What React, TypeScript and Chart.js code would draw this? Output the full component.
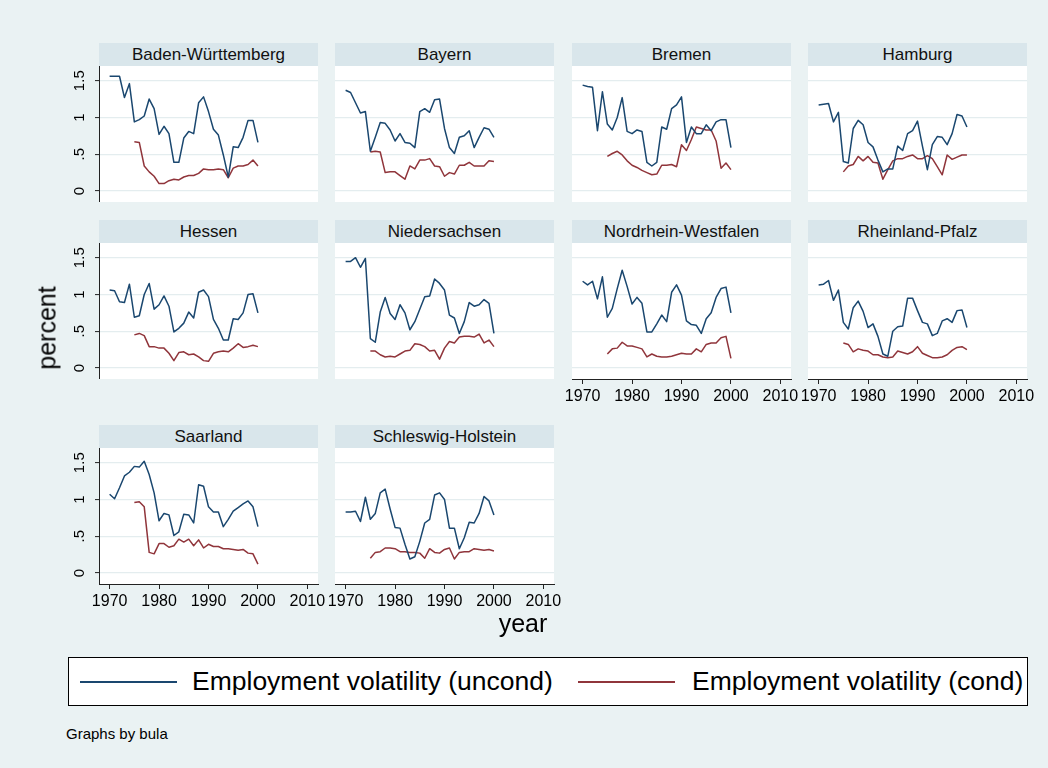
import React, { useEffect, useRef } from "react";
import { Chart, registerables } from "chart.js";

Chart.register(...registerables);

// ---------- data ----------
const years = [1970, 1971, 1972, 1973, 1974, 1975, 1976, 1977, 1978, 1979, 1980, 1981, 1982, 1983, 1984, 1985, 1986, 1987, 1988, 1989, 1990, 1991, 1992, 1993, 1994, 1995, 1996, 1997, 1998, 1999, 2000];
const condYears = [1975, 1976, 1977, 1978, 1979, 1980, 1981, 1982, 1983, 1984, 1985, 1986, 1987, 1988, 1989, 1990, 1991, 1992, 1993, 1994, 1995, 1996, 1997, 1998, 1999, 2000];
const xTickValues = [1970, 1980, 1990, 2000, 2010];
const yTickValues = [0, 0.5, 1, 1.5];
const yTickLabels = ["0", ".5", "1", "1.5"];
const seriesNames = ["Employment volatility (uncond)", "Employment volatility (cond)"];
const stateNames = ["Baden-Württemberg", "Bayern", "Bremen", "Hamburg", "Hessen", "Niedersachsen", "Nordrhein-Westfalen", "Rheinland-Pfalz", "Saarland", "Schleswig-Holstein"];

const bwUncond = [1.56, 1.56, 1.56, 1.27, 1.46, 0.94, 0.97, 1.02, 1.25, 1.12, 0.77, 0.88, 0.78, 0.39, 0.39, 0.72, 0.81, 0.78, 1.2, 1.28, 1.08, 0.84, 0.76, 0.49, 0.19, 0.6, 0.59, 0.73, 0.96, 0.96, 0.66];
const bwCond = [0.67, 0.66, 0.34, 0.26, 0.2, 0.1, 0.1, 0.14, 0.16, 0.15, 0.19, 0.21, 0.21, 0.24, 0.3, 0.29, 0.29, 0.3, 0.29, 0.18, 0.31, 0.34, 0.34, 0.36, 0.42, 0.34];
const byUncond = [1.37, 1.34, 1.2, 1.06, 1.08, 0.54, 0.73, 0.93, 0.92, 0.83, 0.68, 0.78, 0.66, 0.65, 0.59, 1.08, 1.12, 1.07, 1.24, 1.25, 0.85, 0.59, 0.51, 0.73, 0.75, 0.82, 0.59, 0.73, 0.86, 0.84, 0.73];
const byCond = [0.53, 0.54, 0.53, 0.25, 0.26, 0.26, 0.21, 0.16, 0.34, 0.3, 0.42, 0.42, 0.44, 0.34, 0.33, 0.2, 0.25, 0.23, 0.35, 0.35, 0.39, 0.34, 0.34, 0.34, 0.41, 0.4];
const hbUncond = [1.44, 1.42, 1.41, 0.82, 1.35, 0.91, 0.83, 1.0, 1.27, 0.81, 0.78, 0.83, 0.81, 0.39, 0.34, 0.39, 0.87, 0.84, 1.12, 1.17, 1.28, 0.66, 0.87, 0.78, 0.78, 0.9, 0.82, 0.94, 0.97, 0.97, 0.59];
const hbCond = [0.47, 0.51, 0.54, 0.49, 0.41, 0.35, 0.32, 0.28, 0.25, 0.22, 0.23, 0.35, 0.35, 0.36, 0.33, 0.63, 0.55, 0.7, 0.87, 0.85, 0.83, 0.83, 0.68, 0.31, 0.38, 0.29];
const hhUncond = [1.17, 1.18, 1.19, 0.94, 1.07, 0.4, 0.38, 0.85, 0.96, 0.9, 0.66, 0.6, 0.42, 0.26, 0.3, 0.3, 0.61, 0.55, 0.78, 0.82, 0.95, 0.61, 0.29, 0.63, 0.74, 0.73, 0.63, 0.78, 1.04, 1.02, 0.87];
const hhCond = [0.26, 0.34, 0.36, 0.47, 0.41, 0.47, 0.39, 0.38, 0.16, 0.29, 0.41, 0.44, 0.44, 0.47, 0.49, 0.44, 0.44, 0.48, 0.44, 0.33, 0.22, 0.49, 0.43, 0.46, 0.49, 0.49];
const heUncond = [1.06, 1.05, 0.9, 0.89, 1.14, 0.69, 0.71, 1.0, 1.15, 0.8, 0.86, 0.98, 0.84, 0.49, 0.54, 0.61, 0.76, 0.68, 1.03, 1.06, 0.97, 0.66, 0.54, 0.38, 0.38, 0.67, 0.66, 0.75, 1.0, 1.01, 0.75];
const heCond = [0.45, 0.47, 0.44, 0.29, 0.29, 0.27, 0.27, 0.2, 0.1, 0.21, 0.22, 0.18, 0.19, 0.15, 0.1, 0.09, 0.2, 0.22, 0.23, 0.22, 0.27, 0.33, 0.28, 0.29, 0.31, 0.29];
const niUncond = [1.45, 1.45, 1.5, 1.37, 1.49, 0.4, 0.35, 0.76, 0.96, 0.74, 0.66, 0.86, 0.75, 0.52, 0.63, 0.8, 0.97, 0.98, 1.21, 1.15, 1.06, 0.72, 0.68, 0.47, 0.63, 0.89, 0.84, 0.86, 0.93, 0.88, 0.47];
const niCond = [0.23, 0.23, 0.18, 0.15, 0.16, 0.15, 0.19, 0.23, 0.24, 0.33, 0.32, 0.29, 0.23, 0.24, 0.12, 0.27, 0.36, 0.34, 0.42, 0.43, 0.43, 0.42, 0.46, 0.34, 0.38, 0.29];
const nwUncond = [1.18, 1.13, 1.18, 0.94, 1.24, 0.69, 0.81, 1.08, 1.33, 1.11, 0.87, 0.96, 0.88, 0.49, 0.49, 0.6, 0.72, 0.63, 1.03, 1.13, 0.99, 0.64, 0.59, 0.58, 0.47, 0.67, 0.75, 0.96, 1.08, 1.1, 0.75];
const nwCond = [0.19, 0.26, 0.27, 0.35, 0.3, 0.3, 0.28, 0.26, 0.15, 0.19, 0.16, 0.15, 0.15, 0.16, 0.18, 0.2, 0.19, 0.19, 0.26, 0.22, 0.32, 0.34, 0.34, 0.41, 0.43, 0.13];
const rpUncond = [1.13, 1.14, 1.19, 0.92, 1.06, 0.62, 0.53, 0.82, 0.91, 0.77, 0.55, 0.6, 0.43, 0.19, 0.16, 0.5, 0.56, 0.57, 0.95, 0.95, 0.78, 0.62, 0.6, 0.44, 0.47, 0.64, 0.67, 0.62, 0.78, 0.79, 0.55];
const rpCond = [0.34, 0.32, 0.22, 0.26, 0.24, 0.23, 0.18, 0.18, 0.15, 0.14, 0.15, 0.23, 0.21, 0.19, 0.22, 0.29, 0.2, 0.17, 0.14, 0.14, 0.15, 0.18, 0.24, 0.28, 0.29, 0.25];
const slUncond = [1.07, 1.01, 1.16, 1.32, 1.37, 1.45, 1.44, 1.52, 1.34, 1.09, 0.71, 0.81, 0.79, 0.51, 0.56, 0.8, 0.79, 0.68, 1.2, 1.18, 0.9, 0.83, 0.83, 0.63, 0.73, 0.84, 0.89, 0.94, 0.98, 0.9, 0.63];
const slCond = [0.96, 0.97, 0.9, 0.28, 0.26, 0.4, 0.4, 0.35, 0.37, 0.46, 0.42, 0.46, 0.37, 0.45, 0.34, 0.39, 0.36, 0.36, 0.33, 0.33, 0.32, 0.31, 0.32, 0.27, 0.26, 0.12];
const shUncond = [0.83, 0.83, 0.84, 0.7, 1.03, 0.73, 0.81, 1.09, 1.14, 0.87, 0.62, 0.61, 0.39, 0.19, 0.22, 0.43, 0.68, 0.73, 1.06, 1.09, 1.0, 0.61, 0.61, 0.33, 0.48, 0.69, 0.68, 0.81, 1.04, 0.98, 0.79];
const shCond = [0.2, 0.28, 0.29, 0.34, 0.34, 0.33, 0.29, 0.29, 0.28, 0.28, 0.27, 0.2, 0.33, 0.28, 0.27, 0.32, 0.34, 0.19, 0.28, 0.29, 0.29, 0.33, 0.32, 0.31, 0.32, 0.3];

const uncondSeries = [bwUncond, byUncond, hbUncond, hhUncond, heUncond, niUncond, nwUncond, rpUncond, slUncond, shUncond];
const condSeries = [bwCond, byCond, hbCond, hhCond, heCond, niCond, nwCond, rpCond, slCond, shCond];

// ---------- style / layout ----------
const FONT = '"Liberation Sans", Arial, Helvetica, sans-serif';
const BG = "#EAF2F3";
const STRIP = "#D9E6EB";
const GRID = "#E4EDEF";
const AXIS = "#222222";
const NAVY = "#1A476F";
const MAROON = "#90353B";

const COL_LEFT = [99, 335, 572, 808];
const ROW_TOP = [66, 243, 448];
const PLOT_W = 219;
const PLOT_H = 136;
const HEADER_H = 23;
const Y_AXIS_W = 40;
const X_AXIS_H = 34;
const X_EXT = 20;
const X_MIN = 1967.85;
const X_MAX = 2012.15;
const Y_MIN = -0.15;
const Y_MAX = 1.7;

const whiteBg = {
  id: "whiteBg",
  beforeDraw(chart: any) {
    const { ctx, chartArea } = chart;
    ctx.save();
    ctx.fillStyle = "#ffffff";
    ctx.fillRect(chartArea.left, chartArea.top, chartArea.right - chartArea.left, chartArea.bottom - chartArea.top);
    ctx.restore();
  },
};

type PanelProps = {
  title: string;
  uncond: number[];
  cond: number[];
  col: number;
  row: number;
  showY: boolean;
  showX: boolean;
};

function Panel({ title, uncond, cond, col, row, showY, showX }: PanelProps) {
  const ref = useRef<HTMLCanvasElement>(null);
  const plotLeft = COL_LEFT[col];
  const plotTop = ROW_TOP[row];
  const padLeft = showX && !showY ? X_EXT : 0;
  const padRight = showX ? X_EXT : 0;
  const leftExtra = (showY ? Y_AXIS_W : 0) + padLeft;
  const cw = PLOT_W + leftExtra + padRight;
  const ch = PLOT_H + (showX ? X_AXIS_H : 0);

  useEffect(() => {
    if (!ref.current) return;
    const chart = new Chart(ref.current, {
      type: "line",
      data: {
        datasets: [
          {
            label: seriesNames[0],
            data: years.map((yr, i) => ({ x: yr, y: uncond[i] })),
            borderColor: NAVY,
            borderWidth: 1.5,
            pointRadius: 0,
            fill: false,
            tension: 0,
            borderJoinStyle: "round",
          },
          {
            label: seriesNames[1],
            data: condYears.map((yr, i) => ({ x: yr, y: cond[i] })),
            borderColor: MAROON,
            borderWidth: 1.5,
            pointRadius: 0,
            fill: false,
            tension: 0,
            borderJoinStyle: "round",
          },
        ],
      },
      options: {
        animation: false,
        responsive: false,
        maintainAspectRatio: false,
        events: [],
        layout: { padding: { left: padLeft, right: padRight, top: 0, bottom: 0 }, autoPadding: false },
        plugins: {
          legend: { display: false },
          tooltip: { enabled: false },
          title: { display: false },
        },
        scales: {
          x: {
            type: "linear",
            min: X_MIN,
            max: X_MAX,
            display: showX,
            afterBuildTicks: (s: any) => {
              s.ticks = xTickValues.map((v) => ({ value: v }));
            },
            afterFit: (s: any) => {
              s.height = showX ? X_AXIS_H : 0;
              s.paddingLeft = 0;
              s.paddingRight = 0;
              s.paddingTop = 0;
              s.paddingBottom = 0;
            },
            ticks: {
              color: "#000",
              font: { family: FONT, size: 16 },
              padding: 3,
              minRotation: 0,
              maxRotation: 0,
              autoSkip: false,
              callback: (_v: any, i: number) => String(xTickValues[i]),
            },
            grid: { drawOnChartArea: false, drawTicks: true, tickLength: 5, color: AXIS, lineWidth: 1 },
            border: { display: true, color: AXIS, width: 1 },
          },
          y: {
            type: "linear",
            min: Y_MIN,
            max: Y_MAX,
            display: true,
            afterBuildTicks: (s: any) => {
              s.ticks = yTickValues.map((v) => ({ value: v }));
            },
            afterFit: (s: any) => {
              s.width = showY ? Y_AXIS_W : 0;
              s.paddingLeft = 0;
              s.paddingRight = 0;
              s.paddingTop = 0;
              s.paddingBottom = 0;
            },
            ticks: {
              display: showY,
              color: "#000",
              font: { family: FONT, size: 15 },
              padding: 5,
              minRotation: 90,
              maxRotation: 90,
              crossAlign: "center",
              autoSkip: false,
              callback: (_v: any, i: number) => yTickLabels[i],
            },
            grid: {
              color: GRID,
              lineWidth: 1.2,
              drawTicks: showY,
              tickLength: 4,
              tickColor: AXIS,
              tickWidth: 1,
            },
            border: { display: showY, color: AXIS, width: 1 },
          },
        },
      } as any,
      plugins: [whiteBg],
    });
    return () => chart.destroy();
  }, []);

  return (
    <>
      <div
        style={{
          position: "absolute",
          left: plotLeft,
          top: plotTop - HEADER_H,
          width: PLOT_W,
          height: HEADER_H,
          background: STRIP,
          fontFamily: FONT,
          fontSize: 17,
          lineHeight: HEADER_H + "px",
          textAlign: "center",
          color: "#111",
          whiteSpace: "nowrap",
        }}
      >
        {title}
      </div>
      <canvas
        ref={ref}
        width={cw}
        height={ch}
        style={{
          position: "absolute",
          left: plotLeft - leftExtra,
          top: plotTop,
          width: cw,
          height: ch,
        }}
      />
    </>
  );
}

const panelLayout = [
  { col: 0, row: 0, showY: true, showX: false },
  { col: 1, row: 0, showY: false, showX: false },
  { col: 2, row: 0, showY: false, showX: false },
  { col: 3, row: 0, showY: false, showX: false },
  { col: 0, row: 1, showY: true, showX: false },
  { col: 1, row: 1, showY: false, showX: false },
  { col: 2, row: 1, showY: false, showX: true },
  { col: 3, row: 1, showY: false, showX: true },
  { col: 0, row: 2, showY: true, showX: true },
  { col: 1, row: 2, showY: false, showX: true },
];

export default function App() {
  return (
    <div
      style={{
        position: "absolute",
        left: 0,
        top: 0,
        width: 1048,
        height: 768,
        background: BG,
        overflow: "hidden",
        fontFamily: FONT,
      }}
    >
      {panelLayout.map((p, i) => (
        <Panel
          key={stateNames[i]}
          title={stateNames[i]}
          uncond={uncondSeries[i]}
          cond={condSeries[i]}
          col={p.col}
          row={p.row}
          showY={p.showY}
          showX={p.showX}
        />
      ))}

      {/* y axis title */}
      <div
        style={{
          position: "absolute",
          left: 47,
          top: 328,
          transform: "translate(-50%, -50%) rotate(-90deg)",
          fontSize: 25,
          whiteSpace: "nowrap",
          color: "#000",
        }}
      >
        percent
      </div>

      {/* x axis title */}
      <div
        style={{
          position: "absolute",
          left: 523,
          top: 623,
          transform: "translate(-50%, -50%)",
          fontSize: 25,
          whiteSpace: "nowrap",
          color: "#000",
        }}
      >
        year
      </div>

      {/* legend */}
      <div
        style={{
          position: "absolute",
          left: 68,
          top: 657,
          width: 958,
          height: 47,
          background: "#fff",
          border: "1px solid #000",
        }}
      >
        <div style={{ position: "absolute", left: 11, top: 23, width: 97, height: 2, background: NAVY }} />
        <div
          style={{
            position: "absolute",
            left: 123,
            top: 0,
            height: 47,
            lineHeight: "47px",
            fontSize: 26.5,
            whiteSpace: "nowrap",
            color: "#000",
          }}
        >
          {seriesNames[0]}
        </div>
        <div style={{ position: "absolute", left: 509, top: 23, width: 97, height: 2, background: MAROON }} />
        <div
          style={{
            position: "absolute",
            left: 623,
            top: 0,
            height: 47,
            lineHeight: "47px",
            fontSize: 26.5,
            whiteSpace: "nowrap",
            color: "#000",
          }}
        >
          {seriesNames[1]}
        </div>
      </div>

      {/* note */}
      <div
        style={{
          position: "absolute",
          left: 66,
          top: 733,
          transform: "translateY(-50%)",
          fontSize: 15,
          whiteSpace: "nowrap",
          color: "#000",
        }}
      >
        Graphs by bula
      </div>
    </div>
  );
}
